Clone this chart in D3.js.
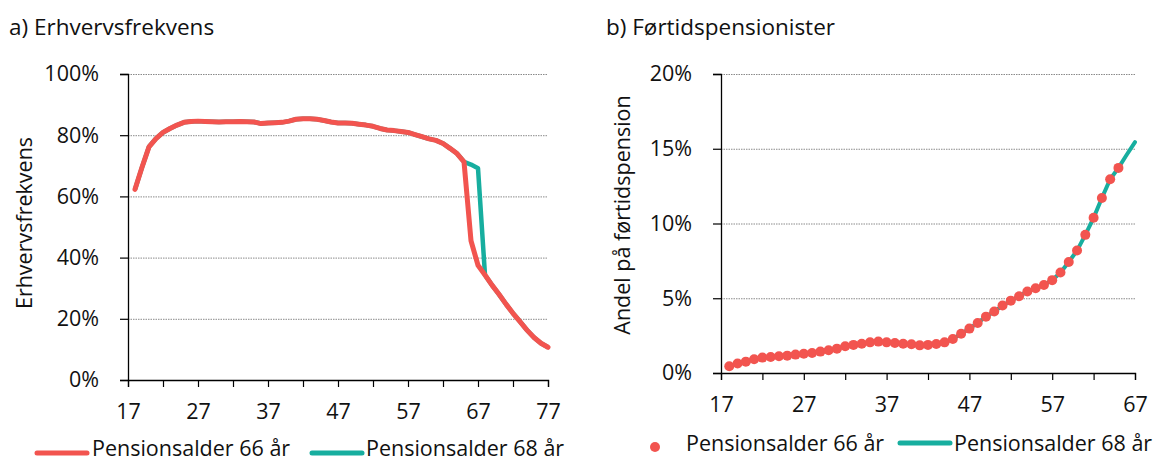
<!DOCTYPE html>
<html><head><meta charset="utf-8">
<script src="https://cdn.jsdelivr.net/npm/d3@7"></script>
<style>
body{margin:0;background:#fff;}
svg text{font-family:"Open Sans","Noto Sans",sans-serif;fill:#111;}
</style></head>
<body>
<svg id="c" width="1158" height="462"></svg>
<script>
// ---------- DATA ----------
const agesA = d3.range(18, 78); // 18..77
const erhverv66 = [62.3,69.5,76.2,78.9,80.9,82.2,83.3,84.2,84.5,84.6,84.5,84.4,84.3,84.4,84.4,84.5,84.4,84.3,83.8,84.0,84.1,84.2,84.6,85.2,85.4,85.4,85.2,84.8,84.3,84.0,84.0,83.9,83.6,83.3,82.9,82.2,81.7,81.5,81.2,80.9,80.2,79.5,78.8,78.3,77.3,75.7,74.0,71.3,45.5,37.5,34.3,31.0,28.0,24.8,21.8,19.1,16.3,13.9,12.0,10.7];
const erhverv68 = [62.3,69.5,76.2,78.9,80.9,82.2,83.3,84.2,84.5,84.6,84.5,84.4,84.3,84.4,84.4,84.5,84.4,84.3,83.8,84.0,84.1,84.2,84.6,85.2,85.4,85.4,85.2,84.8,84.3,84.0,84.0,83.9,83.6,83.3,82.9,82.2,81.7,81.5,81.2,80.9,80.2,79.5,78.8,78.3,77.3,75.7,74.0,71.3,70.4,69.2,34.3,31.0,28.0,24.8,21.8,19.1,16.3,13.9,12.0,10.7];
const agesB66 = d3.range(18, 66); // 18..65
const foertid66 = [0.45,0.63,0.76,0.92,1.03,1.07,1.12,1.16,1.23,1.29,1.34,1.43,1.52,1.63,1.79,1.88,1.96,2.05,2.10,2.05,2.01,1.96,1.92,1.85,1.88,1.94,2.05,2.28,2.63,2.97,3.35,3.77,4.11,4.51,4.84,5.13,5.45,5.67,5.89,6.21,6.72,7.43,8.19,9.24,10.38,11.70,12.96,13.72];
const agesB68 = d3.range(18, 68); // 18..67
const foertid68 = [0.45,0.63,0.76,0.92,1.03,1.07,1.12,1.16,1.23,1.29,1.34,1.43,1.52,1.63,1.79,1.88,1.96,2.05,2.10,2.05,2.01,1.96,1.92,1.85,1.88,1.94,2.05,2.28,2.63,2.97,3.35,3.77,4.11,4.51,4.84,5.13,5.45,5.67,5.89,6.21,6.72,7.43,8.19,9.24,10.38,11.70,12.96,13.72,14.60,15.44];
const ticksA_y = [0,20,40,60,80,100];
const ticksB_y = [0,5,10,15,20];
const ticksA_x = d3.range(17, 78, 5);
const ticksB_x = d3.range(17, 68, 5);
const seriesNames = ["Pensionsalder 66 år","Pensionsalder 68 år"];
const RED = "#F2544F", TEAL = "#17AE9F";

const svg = d3.select("#c");
const FS = 21.5;

function panel(o){
  const g = svg.append("g");
  const x = d3.scaleLinear().domain(o.xdom).range(o.xr);
  const y = d3.scaleLinear().domain(o.ydom).range(o.yr);
  // grid
  g.append("g").selectAll("line").data(o.yt.filter(v=>v>o.ydom[0])).join("line")
    .attr("x1", o.xr[0]).attr("x2", o.xr[1])
    .attr("y1", d=>y(d)+0.5).attr("y2", d=>y(d)+0.5)
    .attr("stroke","#8a8a8a").attr("stroke-width",1).attr("stroke-dasharray","1.5,1");
  // y axis
  const ya = g.append("g").attr("transform",`translate(${o.xr[0]},0)`)
    .call(d3.axisLeft(y).tickValues(o.yt).tickFormat(d=>d+"%").tickSize(8).tickPadding(o.ypad));
  ya.select(".domain").attr("stroke","#000").attr("stroke-width",1.3);
  ya.selectAll(".tick line").attr("stroke","#000").attr("stroke-width",1.2);
  ya.selectAll("text").attr("font-size",FS).attr("font-family","'Open Sans',sans-serif").attr("fill","#111");
  // x axis
  const xa = g.append("g").attr("transform",`translate(0,${o.yr[0]})`)
    .call(d3.axisBottom(x).tickValues(o.xt).tickFormat((d,i)=> i%2===0? d : "").tickSize(7).tickPadding(17));
  xa.select(".domain").attr("stroke","#000").attr("stroke-width",1.3);
  xa.selectAll(".tick line").attr("stroke","#000").attr("stroke-width",1.2);
  xa.selectAll("text").attr("font-size",FS).attr("font-family","'Open Sans',sans-serif").attr("fill","#111");
  // titles
  svg.append("text").attr("x",o.tx).attr("y",35).attr("font-size",22.5).text(o.title);
  svg.append("text").attr("transform",`translate(${o.lx},${o.ly}) rotate(-90)`)
    .attr("text-anchor","middle").attr("dominant-baseline","central").attr("font-size",FS).text(o.ylabel);
  return {g,x,y};
}

// Panel A
const A = panel({xdom:[17,77], xr:[128,548], ydom:[0,100], yr:[380,74], yt:ticksA_y, xt:ticksA_x, ypad:21,
  title:"a) Erhvervsfrekvens", tx:9, ylabel:"Erhvervsfrekvens", lx:23, ly:223});
const lineA = d3.line().x((d,i)=>A.x(agesA[i])).y(d=>A.y(d)).curve(d3.curveLinear);
A.g.append("path").attr("d",lineA(erhverv68)).attr("fill","none").attr("stroke",TEAL).attr("stroke-width",4.5).attr("stroke-linejoin","round");
A.g.append("path").attr("d",lineA(erhverv66)).attr("fill","none").attr("stroke",RED).attr("stroke-width",5).attr("stroke-linejoin","round").attr("stroke-linecap","round");

// Panel B
const B = panel({xdom:[17,67], xr:[721,1135], ydom:[0,20], yr:[373,74], yt:ticksB_y, xt:ticksB_x, ypad:21,
  title:"b) Førtidspensionister", tx:606, ylabel:"Andel på førtidspension", lx:621, ly:215});
const lineB = d3.line().x((d,i)=>B.x(agesB68[i])).y(d=>B.y(d));
B.g.append("path").attr("d",lineB(foertid68)).attr("fill","none").attr("stroke",TEAL).attr("stroke-width",4).attr("stroke-linecap","round");
B.g.append("g").selectAll("circle").data(foertid66).join("circle")
  .attr("cx",(d,i)=>B.x(agesB66[i])).attr("cy",d=>B.y(d)).attr("r",5).attr("fill",RED);

// Legends
const legA = svg.append("g");
legA.append("line").attr("x1",37).attr("x2",87).attr("y1",453).attr("y2",453).attr("stroke",RED).attr("stroke-width",5).attr("stroke-linecap","round");
legA.append("text").attr("x",92).attr("y",456).attr("font-size",FS).text(seriesNames[0]);
legA.append("line").attr("x1",312).attr("x2",362).attr("y1",453).attr("y2",453).attr("stroke",TEAL).attr("stroke-width",5).attr("stroke-linecap","round");
legA.append("text").attr("x",366).attr("y",456).attr("font-size",FS).text(seriesNames[1]);

const legB = svg.append("g");
legB.append("circle").attr("cx",655).attr("cy",447).attr("r",5).attr("fill",RED);
legB.append("text").attr("x",686).attr("y",451).attr("font-size",FS).text(seriesNames[0]);
legB.append("line").attr("x1",900).attr("x2",950).attr("y1",443).attr("y2",443).attr("stroke",TEAL).attr("stroke-width",5).attr("stroke-linecap","round");
legB.append("text").attr("x",954).attr("y",451).attr("font-size",FS).text(seriesNames[1]);
</script>
</body></html>
